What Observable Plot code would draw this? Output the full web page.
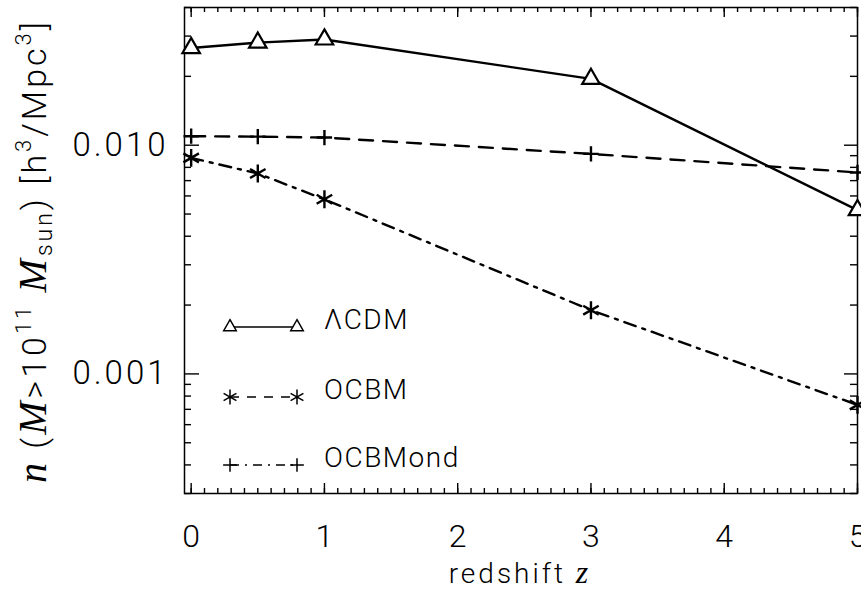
<!DOCTYPE html>
<html><head><meta charset="utf-8">
<script src="https://cdn.jsdelivr.net/npm/d3@7"></script>
<script src="https://cdn.jsdelivr.net/npm/@observablehq/plot@0.6"></script>
<style>
body{margin:0;background:#fff}
#chart{position:relative;width:861px;height:591px;overflow:hidden}
</style></head><body><div id="chart"></div>
<script>
// ---- data ----
const redshift = [0, 0.5, 1, 3, 5];
const lcdmTriangles = [0.0266, 0.0281, 0.0290, 0.0195, 0.0052];     // solid, triangles
const dashedPlus = [0.01095, 0.0109, 0.0108, 0.00916, 0.0076];       // dashed, plus signs
const dashDotStar = [0.0088, 0.00752, 0.0058, 0.0019, 0.000732];     // dash-dot, asterisks
const legendNames = ["\u039BCDM", "OCBM", "OCBMond"];
const xMajor = [0, 1, 2, 3, 4, 5];
const xMinor = d3.range(0, 51).map(i => i / 10);
const yMajor = [0.001, 0.01];
const yMinor = [0.0003,0.0004,0.0005,0.0006,0.0007,0.0008,0.0009,
                0.002,0.003,0.004,0.005,0.006,0.007,0.008,0.009,
                0.02,0.03,0.04];
const xDomain = [-0.05, 5];
const yDomain = [0.0003, 0.04];

const toRows = (vals) => redshift.map((z, i) => ({z, n: vals[i]}));
const rowsA = toRows(lcdmTriangles);
const rowsB = toRows(dashedPlus);
const rowsC = toRows(dashDotStar);

const W = 861, H = 591, ML = 184, MR = 4, MT = 7, MB = 98;
const tk = {stroke: "black", strokeWidth: 1.4};
// inward ticks: zero-length rules at the frame edge, extended by negative insets
const ticksBottom = (v, len) => Plot.ruleX(v, {x: d => d, y1: yDomain[0], y2: yDomain[0], insetTop: -len, ...tk});
const ticksTop = (v, len) => Plot.ruleX(v, {x: d => d, y1: yDomain[1], y2: yDomain[1], insetBottom: -len, ...tk});
const ticksLeft = (v, len) => Plot.ruleY(v, {y: d => d, x1: xDomain[0], x2: xDomain[0], insetRight: -len, ...tk});
const ticksRight = (v, len) => Plot.ruleY(v, {y: d => d, x1: xDomain[1], x2: xDomain[1], insetLeft: -len, ...tk});

const chart = Plot.plot({
  width: W, height: H,
  marginLeft: ML, marginRight: MR, marginTop: MT, marginBottom: MB,
  x: {domain: xDomain},
  y: {type: "log", domain: yDomain},
  style: {fontFamily: "Roboto", fontWeight: 300, background: "white", color: "black"},
  marks: [
    Plot.frame({stroke: "black", strokeWidth: 1.5}),
    ticksBottom(xMinor, 5), ticksBottom(xMajor, 10),
    ticksTop(xMinor, 5), ticksTop(xMajor, 10),
    ticksLeft(yMinor, 7), ticksLeft(yMajor, 15),
    ticksRight(yMinor, 7), ticksRight(yMajor, 13),
    // tick labels
    Plot.axisX({ticks: xMajor, anchor: "bottom", tickSize: 0, tickPadding: 31, fontSize: 32, label: null, tickFormat: d => String(d)}),
    Plot.axisY({ticks: yMajor, anchor: "left", tickSize: 0, tickPadding: 16, fontSize: 33, label: null, tickFormat: d => d.toFixed(3)}),
    // series
    Plot.line(rowsA, {x: "z", y: "n", stroke: "black", strokeWidth: 2.4}),
    Plot.line(rowsB, {x: "z", y: "n", stroke: "black", strokeWidth: 2.4, strokeDasharray: "14,10"}),
    Plot.line(rowsC, {x: "z", y: "n", stroke: "black", strokeWidth: 2.4, strokeDasharray: "12,7,3,7"}),
    Plot.dot(rowsA, {x: "z", y: "n", symbol: "triangle", r: 6.5, stroke: "black", fill: "white", strokeWidth: 2.2}),
    Plot.dot(rowsB, {x: "z", y: "n", symbol: "plus", r: 5, stroke: "black", strokeWidth: 2.4}),
    Plot.dot(rowsC, {x: "z", y: "n", symbol: "asterisk", r: 8.5, stroke: "black", strokeWidth: 2.4})
  ]
});
document.getElementById("chart").appendChild(chart);

const svg = d3.select(chart);
svg.selectAll("[aria-label='y-axis tick label'] text").attr("letter-spacing", 3);
const sans = "Roboto", serif = "Liberation Serif";

// legend (inside plot area, lower left)
const legendStyles = [
  {sym: d3.symbolTriangle2, r: 6, dash: null, y: 327},
  {sym: d3.symbolAsterisk, r: 7, dash: "9,8", y: 397},
  {sym: d3.symbolPlus, r: 4.5, dash: "9,6,2,6", y: 465}
];
const lg = svg.append("g").attr("text-anchor", "start");
legendStyles.forEach((s, i) => {
  lg.append("line").attr("x1", 230).attr("x2", 297).attr("y1", s.y).attr("y2", s.y)
    .attr("stroke", "black").attr("stroke-width", 1.6).attr("stroke-dasharray", s.dash);
  [230, 297].forEach(x => lg.append("path")
    .attr("d", d3.symbol(s.sym, Math.PI * s.r * s.r)())
    .attr("transform", `translate(${x},${s.y})`)
    .attr("fill", i === 0 ? "white" : "none").attr("stroke", "black").attr("stroke-width", 1.5));
  lg.append("text").attr("x", 324).attr("y", s.y + 2)
    .attr("font-family", sans).attr("font-weight", 300).attr("font-size", 28)
    .attr("letter-spacing", 1.5).text(legendNames[i]);
});

// x label
const xl = svg.append("text").attr("x", 520).attr("y", 583).attr("text-anchor", "middle")
  .attr("font-family", sans).attr("font-weight", 300).attr("font-size", 28).attr("letter-spacing", 3);
xl.append("tspan").text("redshift ");
xl.append("tspan").attr("font-family", serif).attr("font-style", "italic").attr("font-size", 32).text("z");

// y label
const yl = svg.append("text").attr("transform", "translate(46,251) rotate(-90)")
  .attr("text-anchor", "middle").attr("font-family", sans).attr("font-weight", 300)
  .attr("font-size", 34).attr("letter-spacing", 3);
const part = (t, o = {}) => {
  const s = yl.append("tspan").text(t);
  if (o.it) s.attr("font-family", serif).attr("font-style", "italic").attr("font-size", 40);
  if (o.sz) s.attr("font-size", o.sz);
  if (o.dy) s.attr("dy", o.dy);
  return s;
};
part("n", {it: true});
part(" (");
part("M", {it: true});
part(">10");
part("11", {sz: 22, dy: -15});
part(" ", {dy: 15});
part("M", {it: true});
part("sun", {sz: 23, dy: 6});
part(") [h", {dy: -6});
part("3", {sz: 22, dy: -15});
part("/Mpc", {dy: 15});
part("3", {sz: 22, dy: -15});
part("]", {dy: 15});
</script></body></html>
